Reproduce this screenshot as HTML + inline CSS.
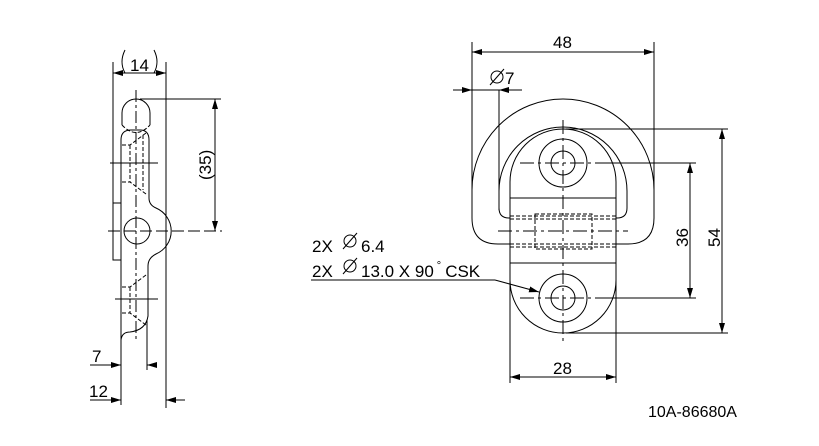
<!DOCTYPE html>
<html><head><meta charset="utf-8"><style>
html,body{margin:0;padding:0;background:#fff;width:819px;height:446px;overflow:hidden}
svg{display:block}
text{font-family:"Liberation Sans",sans-serif;fill:#000}
</style></head><body>
<svg width="819" height="446" viewBox="0 0 819 446" xmlns="http://www.w3.org/2000/svg">
<defs>
<marker id="a" viewBox="0 0 10 6" refX="10" refY="3" markerWidth="10" markerHeight="6" orient="auto-start-reverse" markerUnits="userSpaceOnUse"><path d="M0,0 L10,3 L0,6z" fill="#000"/></marker>
</defs>
<g stroke="#000" stroke-width="1" fill="none">
<!-- LEFT VIEW -->
<line x1="113" y1="62" x2="113" y2="203"/>
<line x1="166" y1="62" x2="166" y2="408"/>
<line x1="113" y1="73" x2="166" y2="73" marker-start="url(#a)" marker-end="url(#a)"/>
<path d="M125,50 Q119,62 125,73"/><path d="M154,50 Q160,62 154,73"/>
<line x1="140" y1="99" x2="221" y2="99"/>
<line x1="215" y1="99" x2="215" y2="231" marker-start="url(#a)" marker-end="url(#a)"/>
<rect x="113" y="203" width="8" height="57"/>
<path d="M122,125 L122,113 A14,14 0 0 1 150,113 L150,125"/>
<path d="M121,405 L121,140 Q121,130 131,130 L140,130 Q149,130 149,140 L149,198 Q149,205 156,208 A25,25 0 0 1 156,254 Q148,258 148,266 L148,316 Q146,330 130,332 Q122,332 121,340"/>
<circle cx="137" cy="231" r="13"/>
<g stroke-dasharray="4,2">
<path d="M122,125 Q136,140 150,125"/>
<path d="M122,145 L130,145 L146,133 M122,182 L130,182 L146,194 M130,145 L130,182 M143,135 L143,190"/>
<path d="M122,287 L130,287 L146,275 M122,313 L130,313 L146,325 M130,287 L130,313"/>
</g>
<line x1="136" y1="90" x2="136" y2="340" stroke-dasharray="12,3,3,3"/>
<line x1="110" y1="163" x2="158" y2="163"/><line x1="115" y1="299" x2="158" y2="299"/>
<line x1="108" y1="231" x2="222" y2="231" stroke-dasharray="12,4"/>
<line x1="147" y1="320" x2="147" y2="370"/>
<line x1="90" y1="365" x2="121" y2="365" marker-end="url(#a)"/>
<line x1="157" y1="365" x2="147" y2="365" marker-end="url(#a)"/>
<line x1="90" y1="400" x2="121" y2="400" marker-end="url(#a)"/>
<line x1="185" y1="400" x2="166" y2="400" marker-end="url(#a)"/>
<!-- RIGHT VIEW -->
<line x1="472" y1="42" x2="472" y2="205"/>
<line x1="654" y1="42" x2="654" y2="190"/>
<line x1="472" y1="52" x2="654" y2="52" marker-start="url(#a)" marker-end="url(#a)"/>
<line x1="453" y1="90" x2="472" y2="90" marker-end="url(#a)"/>
<line x1="522" y1="90" x2="499" y2="90" marker-end="url(#a)"/>
<line x1="472" y1="90" x2="499" y2="90"/>
<line x1="499" y1="90" x2="499" y2="210"/>
<path d="M472,190 A91,91 0 0 1 654,190 L654,218 Q654,244 628,244 L498,244 Q472,244 472,218 Z"/>
<path d="M499,191 A64,64 0 0 1 627,191 L627,208 Q627,218 617,218 L509,218 Q499,218 499,208 Z"/>
<path d="M510,182 A53,53 0 0 1 616,182 L616,280 A53,53 0 0 1 510,280 Z" fill="#fff"/>
<line x1="510" y1="198" x2="616" y2="198"/>
<line x1="510" y1="263" x2="616" y2="263"/>
<circle cx="563" cy="163" r="24"/><circle cx="563" cy="163" r="12"/>
<circle cx="563" cy="298" r="24"/><circle cx="563" cy="298" r="12"/>
<g stroke-dasharray="4,2">
<line x1="510" y1="216" x2="616" y2="216"/><line x1="510" y1="219" x2="616" y2="219"/>
<line x1="510" y1="244" x2="616" y2="244"/><line x1="510" y1="247" x2="616" y2="247"/>
<rect x="535" y="214" width="57" height="35"/>
</g>
<g stroke-dasharray="14,4,3,4">
<line x1="563" y1="120" x2="563" y2="342"/>
<line x1="498" y1="231" x2="628" y2="231"/>
<line x1="520" y1="163" x2="606" y2="163"/>
<line x1="520" y1="298" x2="606" y2="298"/>
</g>
<line x1="566" y1="129" x2="728" y2="129"/>
<line x1="566" y1="333" x2="728" y2="333"/>
<line x1="606" y1="163" x2="696" y2="163"/>
<line x1="606" y1="298" x2="696" y2="298"/>
<line x1="690" y1="163" x2="690" y2="298" marker-start="url(#a)" marker-end="url(#a)"/>
<line x1="722" y1="129" x2="722" y2="333" marker-start="url(#a)" marker-end="url(#a)"/>
<line x1="510" y1="280" x2="510" y2="383"/>
<line x1="616" y1="280" x2="616" y2="383"/>
<line x1="510" y1="377" x2="616" y2="377" marker-start="url(#a)" marker-end="url(#a)"/>
<line x1="311" y1="280" x2="495" y2="280"/>
<line x1="495" y1="280" x2="539" y2="292" marker-end="url(#a)"/>
<circle cx="497" cy="77" r="6"/><line x1="490" y1="85" x2="504" y2="69"/>
<circle cx="350" cy="241" r="6"/><line x1="343" y1="249" x2="357" y2="233"/>
<circle cx="350" cy="266" r="6"/><line x1="343" y1="274" x2="357" y2="258"/>
</g>
<text x="130" y="71" font-size="17">14</text>
<text x="0" y="0" font-size="17" transform="translate(211,180) rotate(-90)">(35)</text>
<text x="92" y="362" font-size="17">7</text>
<text x="89" y="397" font-size="17">12</text>
<text x="553" y="48" font-size="17">48</text>
<text x="505" y="84" font-size="17">7</text>
<text x="0" y="0" font-size="17" transform="translate(688,247) rotate(-90)">36</text>
<text x="0" y="0" font-size="17" transform="translate(720,247) rotate(-90)">54</text>
<text x="553" y="374" font-size="17">28</text>
<text x="312" y="252" font-size="17">2X</text>
<text x="361" y="252" font-size="17">6.4</text>
<text x="312" y="277" font-size="17">2X</text>
<text x="361" y="277" font-size="17">13.0 X 90<tspan font-size="11" dy="-8" dx="3">°</tspan><tspan dy="8" dx="4">CSK</tspan></text>
<text x="648" y="417" font-size="16">10A-86680A</text>
</svg>
</body></html>
